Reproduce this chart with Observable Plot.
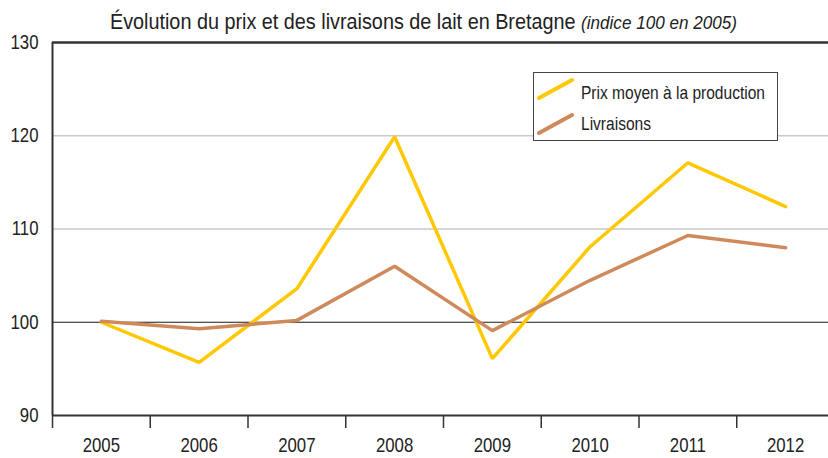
<!DOCTYPE html>
<html><head><meta charset="utf-8">
<script src="https://cdn.jsdelivr.net/npm/d3@7"></script>
<script src="https://cdn.jsdelivr.net/npm/@observablehq/plot@0.6"></script>
<style>
body{margin:0;background:#fff;}
#wrap{position:relative;width:828px;height:458px;overflow:hidden;font-family:"Liberation Sans",Arial,sans-serif;color:#222}
#title{position:absolute;left:0;top:9px;width:828px;padding-left:19px;box-sizing:border-box;text-align:center;font-size:22px;line-height:26px;white-space:nowrap;transform:scaleX(0.9);transform-origin:423px 0}
#title i{font-size:19px}
#chart{position:absolute;left:0;top:36px}
#legend{position:absolute;left:533px;top:72px;width:245px;height:69px;box-sizing:border-box;border:1.5px solid #444;background:#fff}
.sw{position:absolute;left:2px}
.lab{position:absolute;left:47px;font-size:18.5px;line-height:22px;white-space:nowrap;transform:scaleX(0.84);transform-origin:0 0}
</style></head><body>
<div id="wrap">
<div id="title">Évolution du prix et des livraisons de lait en Bretagne <i>(indice 100 en 2005)</i></div>
<div id="chart"></div>
<div id="legend"></div>
</div>
<script>
const years = [2005, 2006, 2007, 2008, 2009, 2010, 2011, 2012];
const prix = [100, 95.7, 103.6, 119.9, 96.1, 108.1, 117.1, 112.4];
const livraisons = [100.1, 99.3, 100.2, 106.0, 99.1, 104.5, 109.3, 108.0];
const yTicks = [90, 100, 110, 120, 130];
const seriesNames = ["Prix moyen à la production", "Livraisons"];
const seriesColors = ["#ffc800", "#cf8a5c"];

const seriesValues = [prix, livraisons];
const data = seriesNames.flatMap((name, k) => years.map((y, i) => ({year: y, value: seriesValues[k][i], series: name})));
const bounds = years.concat([years[years.length - 1] + 1]).map(y => y - 0.5);

const font = '"Liberation Sans",Arial,sans-serif';
const chart = Plot.plot({
  width: 828, height: 422,
  marginTop: 6, marginBottom: 43, marginLeft: 52, marginRight: 0,
  style: {fontFamily: font, fontSize: "20px", background: "transparent", color: "#222", overflow: "visible"},
  x: {type: "linear", domain: [bounds[0], bounds[bounds.length - 1]], range: [52, 834]},
  y: {domain: [90, 130]},
  color: {domain: seriesNames, range: seriesColors},
  marks: [
    Plot.ruleY([110, 120], {stroke: "#c9c9c9", strokeWidth: 1.5}),
    Plot.ruleY([100], {stroke: "#1a1a1a", strokeWidth: 1.2}),
    Plot.line(data, {x: "year", y: "value", stroke: "series", z: "series", strokeWidth: 3.5, strokeLinejoin: "miter"}),
    Plot.ruleY([130], {stroke: "#333", strokeWidth: 2.5}),
    Plot.ruleY([90], {stroke: "#333", strokeWidth: 2}),
    Plot.ruleX([bounds[0]], {stroke: "#333", strokeWidth: 2}),
    Plot.axisX(bounds, {tickSize: 13, tickFormat: () => "", stroke: "#333", strokeWidth: 1.5, label: null}),
    Plot.axisX(years, {tickSize: 0, tickPadding: 22, tickFormat: d => String(d), fontSize: 20, label: null}),
    Plot.axisY(yTicks, {tickSize: 0, tickPadding: 14, fontSize: 20, label: null})
  ]
});
document.getElementById("chart").appendChild(chart);

// condense tick label glyphs (narrow typeface look)
chart.querySelectorAll("g[aria-label$='tick label'] text").forEach(t => {
  const tr = t.getAttribute("transform");
  if (tr) {
    t.setAttribute("transform", tr + " scale(0.84,1)");
  } else {
    const x = +(t.getAttribute("x") || 0);
    t.setAttribute("transform", `translate(${x},0) scale(0.84,1) translate(${-x},0)`);
  }
});

const legend = document.getElementById("legend");
const swTop = [4.5, 39.5];
const labTop = [8.5, 39.5];
seriesNames.forEach((name, k) => {
  const sw = document.createElement("div");
  sw.className = "sw";
  sw.style.top = swTop[k] + "px";
  sw.innerHTML = `<svg width="38" height="22"><line x1="3" y1="20" x2="36" y2="2" stroke="${seriesColors[k]}" stroke-width="4" stroke-linecap="round"/></svg>`;
  legend.appendChild(sw);
  const lab = document.createElement("div");
  lab.className = "lab";
  lab.style.top = labTop[k] + "px";
  lab.textContent = name;
  legend.appendChild(lab);
});
</script>
</body></html>
